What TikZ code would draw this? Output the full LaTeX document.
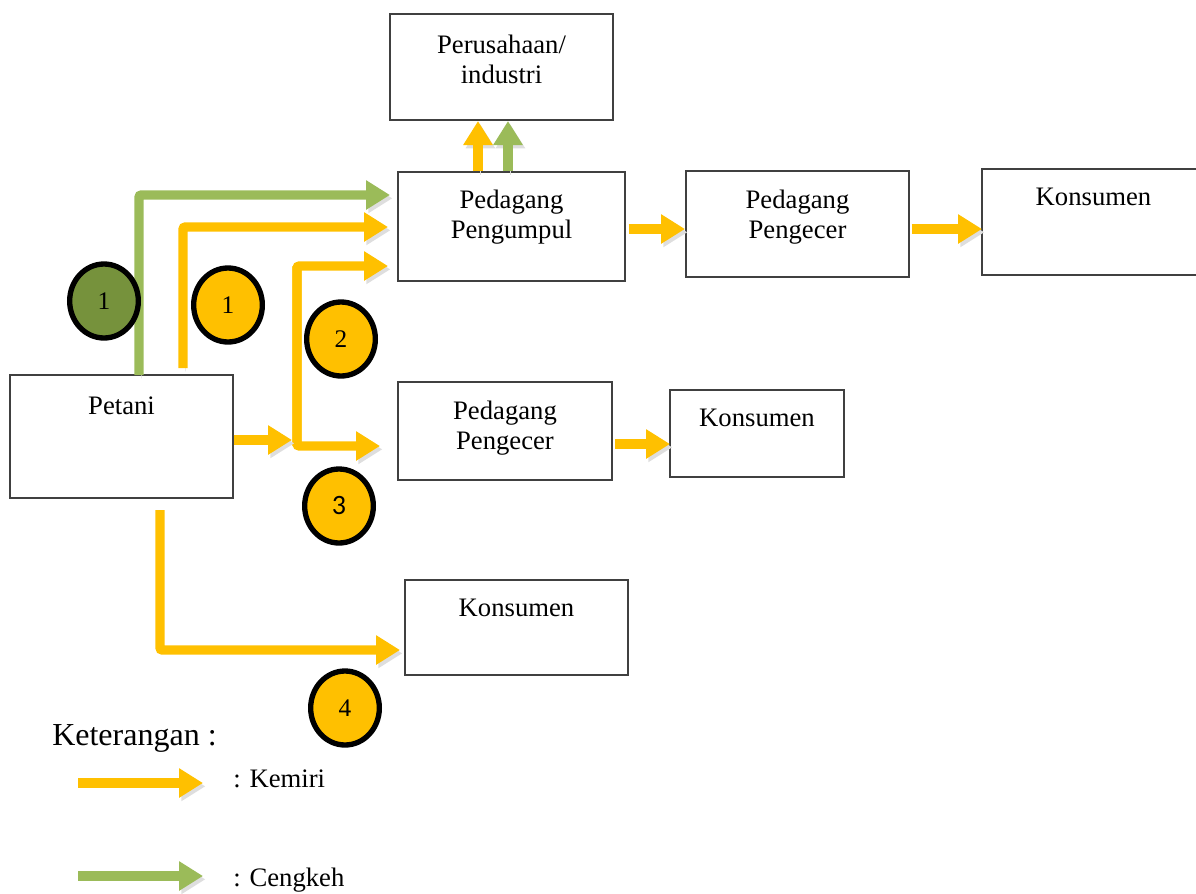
\documentclass[tikz,border=0pt]{standalone}
\usepackage{fontspec}
\setmainfont{Liberation Serif}
\newfontfamily\calib{Carlito}
\usetikzlibrary{arrows.meta,shapes.geometric,calc}
\definecolor{kemiri}{HTML}{FFC000}
\definecolor{cengkeh}{HTML}{9BBB59}
\definecolor{olivedark}{HTML}{76923C}
\definecolor{boxline}{HTML}{404040}
\begin{document}
\begin{tikzpicture}[x=0.75pt,y=-0.75pt,
  box/.style={draw=boxline, line width=1.1pt, rectangle, inner sep=0pt},
  lbl/.style={anchor=north, inner sep=0pt, align=center, font=\fontsize{20pt}{22.5pt}\selectfont},
  flow/.style={line width=6.8pt, -{Triangle[length=18pt,width=21pt]}, rounded corners=1.5pt,
     preaction={draw=black!13, transform canvas={xshift=1.8pt, yshift=-2.5pt}}},
  kflow/.style={flow, draw=kemiri},
  cflow/.style={flow, draw=cengkeh},
  num/.style={ellipse, draw=black, line width=4pt, minimum width=51.5pt, minimum height=55.5pt, inner sep=0pt, font=\fontsize{19pt}{19pt}\selectfont},
  ynum/.style={num, fill=kemiri},
  gnum/.style={num, fill=olivedark}]
\useasboundingbox (0,0) rectangle (1196,893);
\clip (0,0) rectangle (1196,893);

% boxes
\node[box, minimum width=167.25pt, minimum height=79.5pt] (ind) at (501.5,67) {};
\node[box, minimum width=170.25pt, minimum height=81.75pt] (pgp) at (511.5,226.5) {};
\node[box, minimum width=167.25pt, minimum height=79.5pt] (pec1) at (797.5,224) {};
\node[box, minimum width=167.25pt, minimum height=79.5pt] (kon1) at (1093.5,222) {};
\node[box, minimum width=167.25pt, minimum height=92.25pt] (pet) at (121.5,436.5) {};
\node[box, minimum width=160.5pt, minimum height=73.5pt] (pec2) at (505,431) {};
\node[box, minimum width=130.5pt, minimum height=65.25pt] (kon2) at (757,433.5) {};
\node[box, minimum width=167.25pt, minimum height=71.25pt] (kon3) at (516.5,627.5) {};

% box texts
\node[lbl] (tind) at (501.5,35) {Perusahaan/\\industri};
\node[lbl] (tpgp) at (511.5,190) {Pedagang\\Pengumpul};
\node[lbl] (tpec1) at (797.5,190) {Pedagang\\Pengecer};
\node[lbl] (tkon1) at (1093.5,188) {Konsumen};
\node[lbl] (tpet) at (121.5,397) {Petani};
\node[lbl] (tpec2) at (505,401) {Pedagang\\Pengecer};
\node[lbl] (tkon2) at (757,409) {Konsumen};
\node[lbl] (tkon3) at (516.5,599) {Konsumen};

% coordinates
\coordinate (g0) at (139,375);
\coordinate (g1) at (390,195);
\coordinate (y0) at (183,368);
\coordinate (y1) at (388,227);
\coordinate (j3) at (297,446);
\coordinate (j2) at (297,266);
\coordinate (t2) at (388,266);
\coordinate (t3) at (380,446);
\coordinate (s3) at (292,440);
\coordinate (s4) at (160,510);
\coordinate (t4) at (400,650);
\coordinate (uy) at (478,121);
\coordinate (ug) at (508,121);
\coordinate (a1) at (685,229);
\coordinate (a2) at (982,229);
\coordinate (a3) at (670,444);

% connectors
\draw[cflow] (g0) |- (g1);
\draw[kflow] (y0) |- (y1);
\draw[kflow] (j3) |- (t2);
\draw[kflow] (j2) |- (t3);
\draw[kflow] (pet.east |- s3) -- (s3);
\draw[kflow] (s4) |- (t4);
\draw[kflow] (pgp.north -| uy) -- (uy);
\draw[cflow] (pgp.north -| ug) -- (ug);
\draw[kflow] ($(pgp.east |- a1)+(3,0)$) -- (a1);
\draw[kflow] ($(pec1.east |- a2)+(2,0)$) -- (a2);
\draw[kflow] ($(pec2.east |- a3)+(2,0)$) -- (a3);

% number circles
\node[gnum] (n1g) at (104,301) {1};
\node[ynum] (n1) at (228,305) {1};
\node[ynum] (n2) at (341,339) {2};
\node[ynum, font=\calib\fontsize{21pt}{21pt}\selectfont] (n3) at (339,506) {3};
\node[ynum] (n4) at (345,708) {4};

% legend
\node[anchor=west, inner sep=0pt, font=\fontsize{24pt}{24pt}\selectfont] (ket) at (52,738) {Keterangan :};
\coordinate (lk0) at (78,783);
\coordinate (lk1) at (203,783);
\coordinate (lc0) at (78,876);
\coordinate (lc1) at (203,876);
\draw[kflow] (lk0) -- (lk1);
\draw[cflow] (lc0) -- (lc1);
\node[anchor=west, inner sep=0pt, font=\fontsize{20pt}{20pt}\selectfont] (lkem) at (233,779) {: Kemiri};
\node[anchor=west, inner sep=0pt, font=\fontsize{20pt}{20pt}\selectfont] (lcen) at (233,880) {: Cengkeh};
\end{tikzpicture}
\end{document}
